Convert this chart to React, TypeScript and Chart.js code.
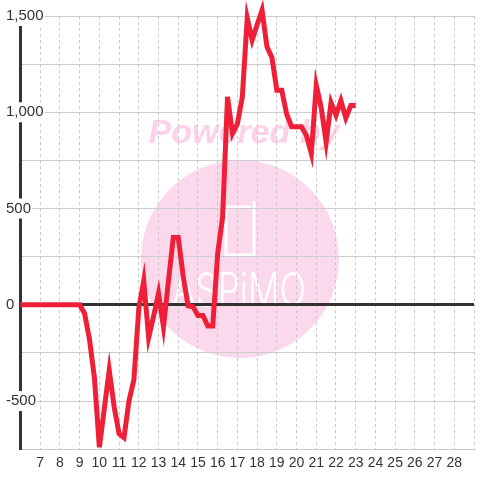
import { useEffect, useRef } from 'react';
import { Chart, registerables } from 'chart.js';

Chart.register(...registerables);

// Hour of day (x) and value (y)
const hours = [
  6, 9, 9.25, 9.5, 9.75, 10, 10.25, 10.5, 10.75, 11, 11.25, 11.5, 11.75, 12, 12.25, 12.5, 12.75, 13,
  13.25, 13.5, 13.75, 14, 14.25, 14.5, 14.75, 15, 15.25, 15.5, 15.75, 16, 16.25, 16.5, 16.75, 17,
  17.25, 17.5, 17.75, 18, 18.25, 18.5, 18.75, 19, 19.25, 19.5, 19.75, 20, 20.25, 20.5, 20.75, 21,
  21.25, 21.5, 21.75, 22, 22.25, 22.5, 22.75, 23,
];
const values = [
  0, 0, -45, -180, -380, -740, -540, -340, -530, -670, -690, -500, -390, -20, 125, -170, -60, 60,
  -115, 120, 350, 350, 150, -5, -10, -55, -55, -110, -110, 265, 455, 1080, 890, 940,
  1080, 1490, 1375, 1455, 1530, 1340, 1285, 1115, 1115, 990, 925, 925, 925, 880, 785, 1140,
  1025, 845, 1050, 985, 1060, 970, 1035, 1035,
];
const xMin = 6;
const xMax = 29;
const hiddenXLabels = [6, 29];
const yMin = -750;
const yMax = 1500;
const yStep = 250;
const yLabelStep = 500;

const FONT = '"Liberation Sans", Arial, sans-serif';

const watermark = {
  id: 'watermark',
  beforeDraw(chart: any) {
    const ctx = chart.ctx as CanvasRenderingContext2D;
    ctx.save();
    ctx.fillStyle = '#ffffff';
    ctx.fillRect(0, 0, chart.width, chart.height);
    // circle
    ctx.fillStyle = '#fcd8ec';
    ctx.beginPath();
    ctx.arc(240, 259, 99, 0, Math.PI * 2);
    ctx.fill();
    // Powered by
    ctx.fillStyle = '#fbd2e8';
    ctx.font = 'italic bold 34px ' + FONT;
    ctx.textAlign = 'center';
    ctx.textBaseline = 'middle';
    ctx.fillText('Powered by', 244, 134);
    // logo glyph
    ctx.strokeStyle = '#ffffff';
    ctx.lineWidth = 3;
    ctx.lineJoin = 'round';
    ctx.beginPath();
    ctx.moveTo(226, 207);
    ctx.lineTo(226, 255);
    ctx.lineTo(254, 255);
    ctx.lineTo(254, 201);
    ctx.moveTo(226, 207);
    ctx.lineTo(251, 207);
    ctx.stroke();
    // logo text
    ctx.fillStyle = '#ffffff';
    ctx.font = '300 46px Inter, ' + FONT;
    ctx.textBaseline = 'alphabetic';
    ctx.fillText('ASPiMO', 239, 306, 134);
    ctx.restore();
  },
};

export default function App() {
  const ref = useRef<HTMLCanvasElement | null>(null);

  useEffect(() => {
    document.body.style.margin = '0';
    if (!ref.current) return;
    const chart = new Chart(ref.current, {
      type: 'line',
      data: {
        datasets: [
          {
            data: hours.map((h, i) => ({ x: h, y: values[i] })),
            borderColor: '#ee1f37',
            borderWidth: 5,
            pointRadius: 0,
            tension: 0,
            fill: false,
            clip: false as any,
          },
        ],
      },
      options: {
        responsive: false,
        animation: false,
        layout: { padding: { left: 6, right: 0, top: 16, bottom: 2 } },
        plugins: { legend: { display: false }, tooltip: { enabled: false } },
        scales: {
          x: {
            type: 'linear',
            min: xMin,
            max: xMax,
            ticks: {
              stepSize: 1,
              autoSkip: false,
              maxRotation: 0,
              padding: 6,
              color: '#333',
              font: { family: FONT, size: 14 },
              callback: (v: any) => (hiddenXLabels.includes(Number(v)) ? '' : String(v)),
            },
            grid: {
              drawTicks: false,
              color: (c: any) => (c.tick && c.tick.value === xMin ? 'rgba(0,0,0,0)' : '#c8c8c8'),
              lineWidth: 1,
            },
            border: { display: true, color: '#c8c8c8', width: 1, dash: [3, 3] },
          },
          y: {
            min: yMin,
            max: yMax,
            afterFit: (scale: any) => {
              scale.width = 14.5;
            },
            ticks: {
              stepSize: yStep,
              mirror: true,
              padding: -14.5,
              showLabelBackdrop: true,
              backdropPadding: 1,
              backdropColor: (c: any) =>
                c.tick && c.tick.value % yLabelStep === 0 ? '#ffffff' : 'rgba(0,0,0,0)',
              color: '#333',
              font: { family: FONT, size: 15 },
              callback: (v: any) =>
                Number(v) % yLabelStep === 0 ? Number(v).toLocaleString('en-US') : '',
            },
            grid: {
              drawTicks: false,
              color: (c: any) => (c.tick && c.tick.value === 0 ? '#333333' : '#cccccc'),
              lineWidth: (c: any) => (c.tick && c.tick.value === 0 ? 3 : 1),
            },
            border: { display: true, color: '#333333', width: 3 },
          },
        },
      },
      plugins: [watermark],
    });
    return () => chart.destroy();
  }, []);

  return <canvas ref={ref} width={480} height={480} style={{ display: 'block' }} />;
}
